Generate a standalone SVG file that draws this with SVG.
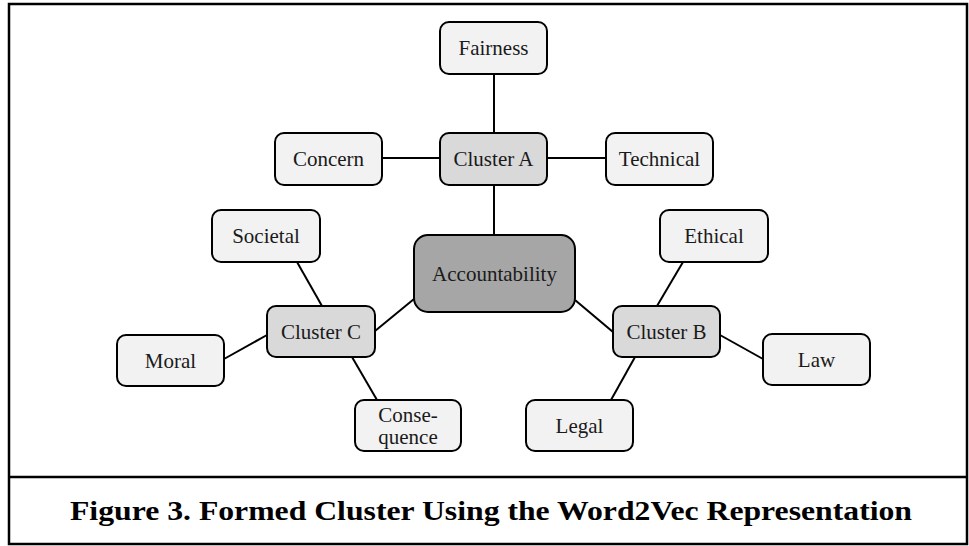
<svg xmlns="http://www.w3.org/2000/svg" width="969" height="546" viewBox="0 0 969 546">
<style>
.box{stroke:#000;stroke-width:2}
.leaf{fill:#f2f2f2}
.cl{fill:#d9d9d9}
.root{fill:#a6a6a6}
.t{font-family:"Liberation Serif","DejaVu Serif",serif;font-size:21px;fill:#1a1a1a;text-anchor:middle;dominant-baseline:central}
.cap{font-family:"Liberation Serif","DejaVu Serif",serif;font-size:28px;font-weight:bold;fill:#000;text-anchor:middle}
#connectors line{stroke:#000;stroke-width:2}
</style>
<rect width="969" height="546" fill="#fff"/>
<rect x="9" y="4" width="958" height="540" fill="none" stroke="#000" stroke-width="2.5"/>
<line x1="9" y1="477" x2="967" y2="477" stroke="#000" stroke-width="2.5"/>
<g id="connectors">
<line x1="494" y1="74" x2="494" y2="133"/>
<line x1="382" y1="158" x2="440" y2="158"/>
<line x1="547" y1="158" x2="606" y2="158"/>
<line x1="494" y1="185" x2="494" y2="235"/>
<line x1="414" y1="299" x2="375" y2="331"/>
<line x1="575" y1="300" x2="613" y2="332"/>
<line x1="297" y1="262" x2="322" y2="306"/>
<line x1="224" y1="359" x2="267" y2="335"/>
<line x1="352" y1="357" x2="377" y2="400"/>
<line x1="683" y1="262" x2="657" y2="306"/>
<line x1="720" y1="335" x2="763" y2="359"/>
<line x1="635" y1="357" x2="611" y2="400"/>
</g>
<g id="fairness"><rect class="box leaf" x="440" y="22" width="107" height="52" rx="9"/><text class="t" x="493.5" y="48">Fairness</text></g>
<g id="clusterA"><rect class="box cl" x="440" y="133" width="107" height="52" rx="9"/><text class="t" x="493.5" y="159">Cluster A</text></g>
<g id="concern"><rect class="box leaf" x="275" y="133" width="107" height="52" rx="9"/><text class="t" x="328.5" y="159">Concern</text></g>
<g id="technical"><rect class="box leaf" x="606" y="133" width="107" height="52" rx="9"/><text class="t" x="659.5" y="159">Technical</text></g>
<g id="accountability"><rect class="box root" x="414" y="235" width="161" height="77" rx="14"/><text class="t" x="494.5" y="273.5">Accountability</text></g>
<g id="societal"><rect class="box leaf" x="212" y="210" width="108" height="52" rx="9"/><text class="t" x="266" y="236">Societal</text></g>
<g id="clusterC"><rect class="box cl" x="267" y="306" width="108" height="51" rx="9"/><text class="t" x="321" y="331.5">Cluster C</text></g>
<g id="moral"><rect class="box leaf" x="117" y="335" width="107" height="51" rx="9"/><text class="t" x="170.5" y="360.5">Moral</text></g>
<g id="consequence"><rect class="box leaf" x="355" y="400" width="106" height="51" rx="9"/><text class="t" x="408" y="415">Conse-</text><text class="t" x="408" y="437">quence</text></g>
<g id="clusterB"><rect class="box cl" x="613" y="306" width="107" height="51" rx="9"/><text class="t" x="666.5" y="331.5">Cluster B</text></g>
<g id="ethical"><rect class="box leaf" x="660" y="210" width="108" height="52" rx="9"/><text class="t" x="714" y="236">Ethical</text></g>
<g id="law"><rect class="box leaf" x="763" y="334" width="107" height="51" rx="9"/><text class="t" x="816.5" y="359.5">Law</text></g>
<g id="legal"><rect class="box leaf" x="526" y="400" width="107" height="51" rx="9"/><text class="t" x="579.5" y="425.5">Legal</text></g>
<text class="cap" x="491" y="520" textLength="842" lengthAdjust="spacingAndGlyphs">Figure 3. Formed Cluster Using the Word2Vec Representation</text>
</svg>
